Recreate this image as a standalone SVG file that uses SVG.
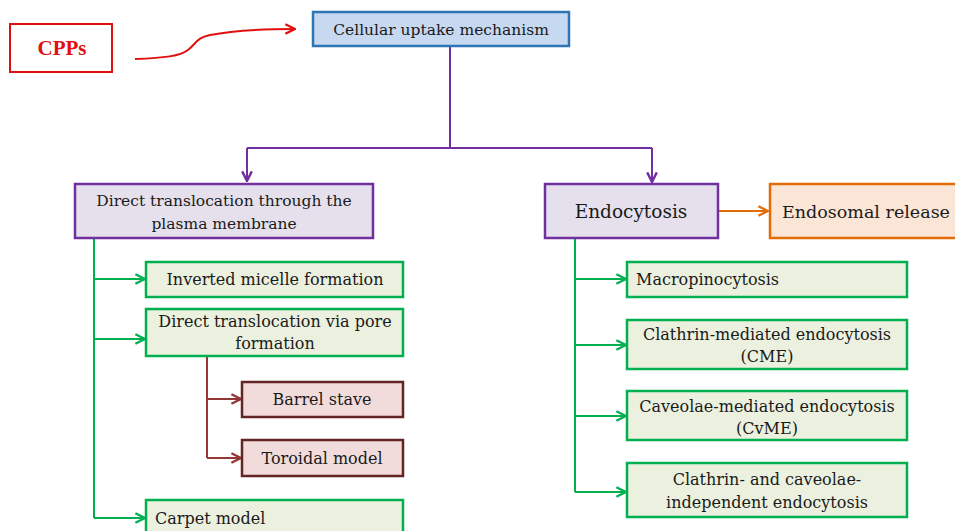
<svg xmlns="http://www.w3.org/2000/svg" width="955" height="531" viewBox="0 0 955 531">
<defs>
<style>
text{font-family:'DejaVu Serif','Liberation Serif',serif;fill:#1a1a1a;font-size:16px}
.c{text-anchor:middle}
.blue{fill:#c6d9f1;stroke:#2e75b6;stroke-width:2.5}
.pur{fill:#e5e0ec;stroke:#7030a0;stroke-width:2.5}
.org{fill:#fbe5d6;stroke:#e36c09;stroke-width:2.5}
.grn{fill:#ebf1de;stroke:#00b050;stroke-width:2.5}
.brn{fill:#f2dcdb;stroke:#632523;stroke-width:2.5}
.red{fill:#fff;stroke:#e01010;stroke-width:2}
.lp{fill:none;stroke:#7030a0;stroke-width:2}
.lg{fill:none;stroke:#00b050;stroke-width:2}
.lb{fill:none;stroke:#953735;stroke-width:2}
.lo{fill:none;stroke:#e36c09;stroke-width:2}
.lr{fill:none;stroke:#e01010;stroke-width:2}
</style>
<marker id="ap" viewBox="0 0 10 10" refX="9" refY="5" markerWidth="6" markerHeight="6" orient="auto"><path d="M1,1 L9,5 L1,9" fill="none" stroke="#7030a0" stroke-width="2"/></marker>
<marker id="ag" viewBox="0 0 10 10" refX="9" refY="5" markerWidth="6" markerHeight="6" orient="auto"><path d="M1,1 L9,5 L1,9" fill="none" stroke="#00b050" stroke-width="2"/></marker>
<marker id="ab" viewBox="0 0 10 10" refX="9" refY="5" markerWidth="6" markerHeight="6" orient="auto"><path d="M1,1 L9,5 L1,9" fill="none" stroke="#953735" stroke-width="2"/></marker>
<marker id="ao" viewBox="0 0 10 10" refX="9" refY="5" markerWidth="6" markerHeight="6" orient="auto"><path d="M1,1 L9,5 L1,9" fill="none" stroke="#e36c09" stroke-width="2"/></marker>
<marker id="ar" viewBox="0 0 10 10" refX="9" refY="5" markerWidth="6" markerHeight="6" orient="auto"><path d="M1,1 L9,5 L1,9" fill="none" stroke="#e01010" stroke-width="2"/></marker>
</defs>
<rect width="955" height="531" fill="#fff"/>

<g id="connectors">
<path class="lr" d="M135,59 C165,58 180,56 188,50 C196,44 196,38 210,35 C235,30 260,29 295,29" marker-end="url(#ar)"/>
<path class="lp" d="M450,46 V148 M247,148 H652"/>
<path class="lp" d="M247,148 V181" marker-end="url(#ap)"/>
<path class="lp" d="M652,148 V182" marker-end="url(#ap)"/>
<path class="lo" d="M718,211 H768" marker-end="url(#ao)"/>
<path class="lg" d="M94,238 V518"/>
<path class="lg" d="M94,279 H145" marker-end="url(#ag)"/>
<path class="lg" d="M94,339 H145" marker-end="url(#ag)"/>
<path class="lg" d="M94,518 H145" marker-end="url(#ag)"/>
<path class="lb" d="M207,356 V458"/>
<path class="lb" d="M207,399 H241" marker-end="url(#ab)"/>
<path class="lb" d="M207,458 H241" marker-end="url(#ab)"/>
<path class="lg" d="M575,238 V492"/>
<path class="lg" d="M575,279 H626" marker-end="url(#ag)"/>
<path class="lg" d="M575,345 H626" marker-end="url(#ag)"/>
<path class="lg" d="M575,416 H626" marker-end="url(#ag)"/>
<path class="lg" d="M575,492 H626" marker-end="url(#ag)"/>
</g>

<g id="cpps"><rect class="red" x="10" y="24" width="102" height="48"/><text x="62" y="55" class="c" style="fill:#e01010;font-weight:bold;font-size:21px;font-family:'Liberation Serif',serif">CPPs</text></g>
<g id="uptake"><rect class="blue" x="313" y="12" width="256" height="34"/><text x="441" y="35" class="c" style="font-size:15.5px">Cellular uptake mechanism</text></g>
<g id="direct"><rect class="pur" x="75" y="184" width="298" height="54"/><text x="224" y="206" class="c" style="font-size:15.5px">Direct translocation through the</text><text x="224" y="229" class="c" style="font-size:15.5px">plasma membrane</text></g>
<g id="endocytosis"><rect class="pur" x="545" y="184" width="173" height="54"/><text x="631" y="218" class="c" style="font-size:18.5px">Endocytosis</text></g>
<g id="endosomal"><rect class="org" x="770" y="184" width="190" height="54"/><text x="866" y="218" class="c" style="font-size:17.5px">Endosomal release</text></g>
<g id="micelle"><rect class="grn" x="146" y="262" width="257" height="35"/><text x="275" y="285" class="c">Inverted micelle formation</text></g>
<g id="pore"><rect class="grn" x="146" y="309" width="257" height="47"/><text x="275" y="327" class="c">Direct translocation via pore</text><text x="275" y="349" class="c">formation</text></g>
<g id="barrel"><rect class="brn" x="242" y="382" width="161" height="35"/><text x="322" y="405" class="c">Barrel stave</text></g>
<g id="toroidal"><rect class="brn" x="242" y="440" width="161" height="36"/><text x="322" y="464" class="c">Toroidal model</text></g>
<g id="carpet"><rect class="grn" x="146" y="500" width="257" height="40"/><text x="155" y="524">Carpet model</text></g>
<g id="macro"><rect class="grn" x="627" y="262" width="280" height="35"/><text x="636" y="285">Macropinocytosis</text></g>
<g id="cme"><rect class="grn" x="627" y="320" width="280" height="49"/><text x="767" y="340" class="c">Clathrin-mediated endocytosis</text><text x="767" y="362" class="c">(CME)</text></g>
<g id="cvme"><rect class="grn" x="627" y="391" width="280" height="49"/><text x="767" y="412" class="c">Caveolae-mediated endocytosis</text><text x="767" y="434" class="c">(CvME)</text></g>
<g id="indep"><rect class="grn" x="627" y="463" width="280" height="54"/><text x="767" y="485" class="c">Clathrin- and caveolae-</text><text x="767" y="508" class="c">independent endocytosis</text></g>
</svg>
